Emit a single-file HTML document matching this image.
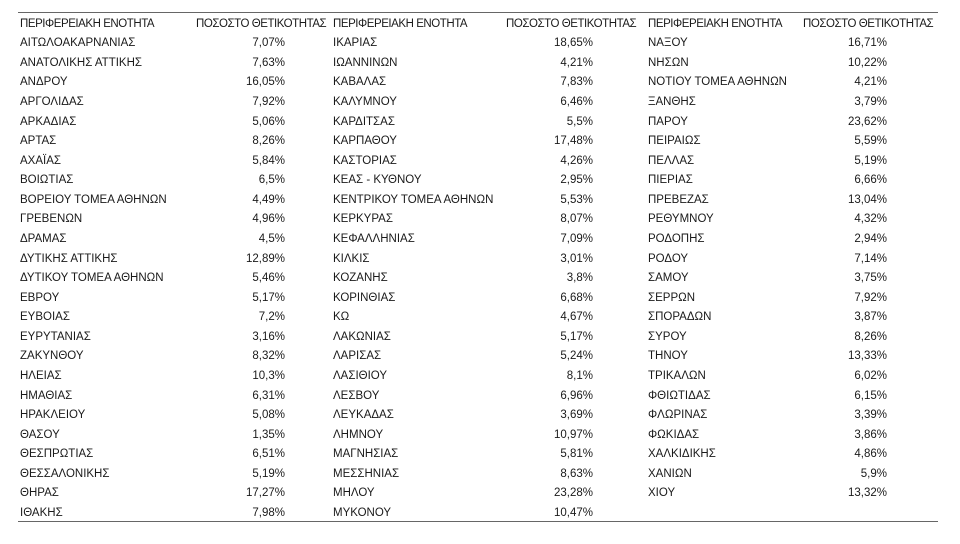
<!DOCTYPE html>
<html><head><meta charset="utf-8"><style>
body{margin:0;width:960px;height:544px;background:#fff;position:relative;overflow:hidden;font-family:"Liberation Sans","DejaVu Sans",sans-serif;font-size:11.5px;color:#1a1a1a}
.c{position:absolute;top:34.2px;line-height:19.58px;white-space:nowrap}
.c div{height:19.58px}
.v{text-align:right}
.h{position:absolute;top:15px;line-height:18px;white-space:nowrap;letter-spacing:-0.45px}
.ln{position:absolute;left:18px;width:920px;height:1px;background:#666}
</style></head><body>
<div class="ln" style="top:12px"></div>
<div class="ln" style="top:521px"></div>
<div class="h" style="left:20px">ΠΕΡΙΦΕΡΕΙΑΚΗ ΕΝΟΤΗΤΑ</div>
<div class="h" style="left:196px">ΠΟΣΟΣΤΟ ΘΕΤΙΚΟΤΗΤΑΣ</div>
<div class="h" style="left:333px">ΠΕΡΙΦΕΡΕΙΑΚΗ ΕΝΟΤΗΤΑ</div>
<div class="h" style="left:506px">ΠΟΣΟΣΤΟ ΘΕΤΙΚΟΤΗΤΑΣ</div>
<div class="h" style="left:648px">ΠΕΡΙΦΕΡΕΙΑΚΗ ΕΝΟΤΗΤΑ</div>
<div class="h" style="left:803px">ΠΟΣΟΣΤΟ ΘΕΤΙΚΟΤΗΤΑΣ</div>

<div class="c" style="left:20px">
<div>ΑΙΤΩΛΟΑΚΑΡΝΑΝΙΑΣ</div><div>ΑΝΑΤΟΛΙΚΗΣ ΑΤΤΙΚΗΣ</div><div>ΑΝΔΡΟΥ</div><div>ΑΡΓΟΛΙΔΑΣ</div><div>ΑΡΚΑΔΙΑΣ</div><div>ΑΡΤΑΣ</div><div>ΑΧΑΪΑΣ</div><div>ΒΟΙΩΤΙΑΣ</div><div>ΒΟΡΕΙΟΥ ΤΟΜΕΑ ΑΘΗΝΩΝ</div><div>ΓΡΕΒΕΝΩΝ</div><div>ΔΡΑΜΑΣ</div><div>ΔΥΤΙΚΗΣ ΑΤΤΙΚΗΣ</div><div>ΔΥΤΙΚΟΥ ΤΟΜΕΑ ΑΘΗΝΩΝ</div><div>ΕΒΡΟΥ</div><div>ΕΥΒΟΙΑΣ</div><div>ΕΥΡΥΤΑΝΙΑΣ</div><div>ΖΑΚΥΝΘΟΥ</div><div>ΗΛΕΙΑΣ</div><div>ΗΜΑΘΙΑΣ</div><div>ΗΡΑΚΛΕΙΟΥ</div><div>ΘΑΣΟΥ</div><div>ΘΕΣΠΡΩΤΙΑΣ</div><div>ΘΕΣΣΑΛΟΝΙΚΗΣ</div><div>ΘΗΡΑΣ</div><div>ΙΘΑΚΗΣ</div>
</div>
<div class="c v" style="left:200px;width:85px">
<div>7,07%</div><div>7,63%</div><div>16,05%</div><div>7,92%</div><div>5,06%</div><div>8,26%</div><div>5,84%</div><div>6,5%</div><div>4,49%</div><div>4,96%</div><div>4,5%</div><div>12,89%</div><div>5,46%</div><div>5,17%</div><div>7,2%</div><div>3,16%</div><div>8,32%</div><div>10,3%</div><div>6,31%</div><div>5,08%</div><div>1,35%</div><div>6,51%</div><div>5,19%</div><div>17,27%</div><div>7,98%</div>
</div>

<div class="c" style="left:333px">
<div>ΙΚΑΡΙΑΣ</div><div>ΙΩΑΝΝΙΝΩΝ</div><div>ΚΑΒΑΛΑΣ</div><div>ΚΑΛΥΜΝΟΥ</div><div>ΚΑΡΔΙΤΣΑΣ</div><div>ΚΑΡΠΑΘΟΥ</div><div>ΚΑΣΤΟΡΙΑΣ</div><div>ΚΕΑΣ - ΚΥΘΝΟΥ</div><div>ΚΕΝΤΡΙΚΟΥ ΤΟΜΕΑ ΑΘΗΝΩΝ</div><div>ΚΕΡΚΥΡΑΣ</div><div>ΚΕΦΑΛΛΗΝΙΑΣ</div><div>ΚΙΛΚΙΣ</div><div>ΚΟΖΑΝΗΣ</div><div>ΚΟΡΙΝΘΙΑΣ</div><div>ΚΩ</div><div>ΛΑΚΩΝΙΑΣ</div><div>ΛΑΡΙΣΑΣ</div><div>ΛΑΣΙΘΙΟΥ</div><div>ΛΕΣΒΟΥ</div><div>ΛΕΥΚΑΔΑΣ</div><div>ΛΗΜΝΟΥ</div><div>ΜΑΓΝΗΣΙΑΣ</div><div>ΜΕΣΣΗΝΙΑΣ</div><div>ΜΗΛΟΥ</div><div>ΜΥΚΟΝΟΥ</div>
</div>
<div class="c v" style="left:508px;width:85px">
<div>18,65%</div><div>4,21%</div><div>7,83%</div><div>6,46%</div><div>5,5%</div><div>17,48%</div><div>4,26%</div><div>2,95%</div><div>5,53%</div><div>8,07%</div><div>7,09%</div><div>3,01%</div><div>3,8%</div><div>6,68%</div><div>4,67%</div><div>5,17%</div><div>5,24%</div><div>8,1%</div><div>6,96%</div><div>3,69%</div><div>10,97%</div><div>5,81%</div><div>8,63%</div><div>23,28%</div><div>10,47%</div>
</div>

<div class="c" style="left:648px">
<div>ΝΑΞΟΥ</div><div>ΝΗΣΩΝ</div><div>ΝΟΤΙΟΥ ΤΟΜΕΑ ΑΘΗΝΩΝ</div><div>ΞΑΝΘΗΣ</div><div>ΠΑΡΟΥ</div><div>ΠΕΙΡΑΙΩΣ</div><div>ΠΕΛΛΑΣ</div><div>ΠΙΕΡΙΑΣ</div><div>ΠΡΕΒΕΖΑΣ</div><div>ΡΕΘΥΜΝΟΥ</div><div>ΡΟΔΟΠΗΣ</div><div>ΡΟΔΟΥ</div><div>ΣΑΜΟΥ</div><div>ΣΕΡΡΩΝ</div><div>ΣΠΟΡΑΔΩΝ</div><div>ΣΥΡΟΥ</div><div>ΤΗΝΟΥ</div><div>ΤΡΙΚΑΛΩΝ</div><div>ΦΘΙΩΤΙΔΑΣ</div><div>ΦΛΩΡΙΝΑΣ</div><div>ΦΩΚΙΔΑΣ</div><div>ΧΑΛΚΙΔΙΚΗΣ</div><div>ΧΑΝΙΩΝ</div><div>ΧΙΟΥ</div>
</div>
<div class="c v" style="left:802px;width:85px">
<div>16,71%</div><div>10,22%</div><div>4,21%</div><div>3,79%</div><div>23,62%</div><div>5,59%</div><div>5,19%</div><div>6,66%</div><div>13,04%</div><div>4,32%</div><div>2,94%</div><div>7,14%</div><div>3,75%</div><div>7,92%</div><div>3,87%</div><div>8,26%</div><div>13,33%</div><div>6,02%</div><div>6,15%</div><div>3,39%</div><div>3,86%</div><div>4,86%</div><div>5,9%</div><div>13,32%</div>
</div>
</body></html>
